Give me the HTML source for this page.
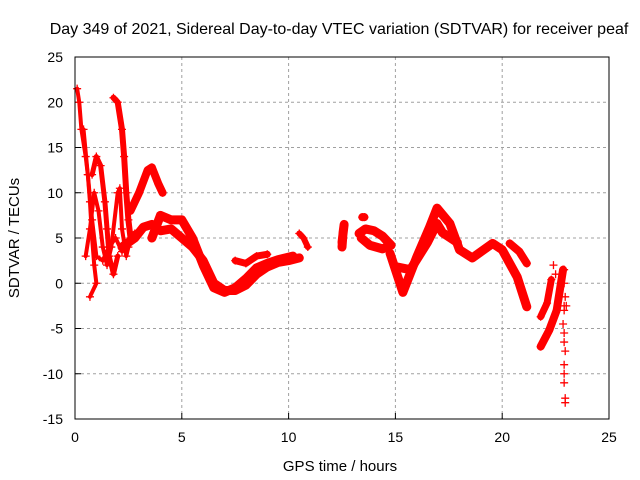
<!DOCTYPE html>
<html><head><meta charset="utf-8"><style>
body{margin:0;background:#fff;}
svg{display:block;font-family:"Liberation Sans",sans-serif;}
</style></head><body>
<svg id="chart" width="640" height="480" xmlns="http://www.w3.org/2000/svg">
<rect width="640" height="480" fill="#fff"/>
<text x="339" y="34" font-size="16" text-anchor="middle">Day 349 of 2021, Sidereal Day-to-day VTEC variation (SDTVAR) for receiver peaf</text>
<text transform="translate(19,238) rotate(-90)" font-size="15" text-anchor="middle">SDTVAR / TECUs</text>
<text x="340" y="471" font-size="15" text-anchor="middle">GPS time / hours</text>
<g id="grid"></g><g id="ticks"></g><g id="marks"></g>
<rect x="75" y="57" width="534" height="362" fill="none" stroke="#000" stroke-width="1"/>
</svg>
<script>
const xTicks=[0,5,10,15,20,25];
const yTicks=[25,20,15,10,5,0,-5,-10,-15];
const traceA_t=[0.1,0.2,0.3,0.5,0.6,0.7,0.8,0.9,1.0,0.7];
const traceA_v=[21.5,20,17,14,12,9,5,2,0,-1.5];
const traceB_t=[0.8,1.0,1.2,1.4,1.5,1.6,1.8,2.0];
const traceB_v=[12,14,13,9,6,3,1,3];
const traceM_t=[0.5,0.7,0.9,1.1,1.3,1.5,1.7,2.0,2.1,2.2,2.4,2.6];
const traceM_v=[3,6,10,8,4,2,4,10,10.5,6,3,5];
const traceN_t=[0.4,0.6,0.8,1.0,1.3,1.6,1.9,2.2,2.5];
const traceN_v=[17,12,7,3,2.5,4,5,3.5,4];
const traceC_t=[1.8,2.0,2.2,2.3,2.4,2.5,2.6,2.8];
const traceC_v=[20.5,20,17,14,10,7,5,5.5];
const traceD_t=[2.6,3.0,3.4,3.6,3.9,4.1];
const traceD_v=[8,10,12.5,12.8,11,10];
const traceE_t=[2.2,2.8,3.2,3.6,4,4.5,5,5.5,6,6.5,7,7.5,8,8.5,9,9.5,10,10.5];
const traceE_v=[4,5,6.2,6.5,5.8,6,5,4,2.5,0,-0.8,-0.8,-0.2,1,1.8,2.3,2.5,2.8];
const traceF_t=[3.6,4,4.5,5,5.5,6,6.5,7,7.5,8,8.5,9,9.5,10.2];
const traceF_v=[5,7.5,7,7,5,2,-0.5,-1,-0.5,0.5,1.7,2.2,2.6,3];
const traceG_t=[7.5,8,8.5,9];
const traceG_v=[2.5,2.2,3,3.2];
const traceL_t=[10.5,10.7,10.9];
const traceL_v=[5.5,5,4];
const blob1_t=[12.5,12.55,12.6,12.5];
const blob1_v=[4,5.6,6.5,4.5];
const blob2_t=[13.3,13.6,14.0,14.4,14.8,14.4,13.8,13.4];
const blob2_v=[5.5,6,5.8,5.2,4.2,3.8,4.2,5];
const blob3_t=[13.45,13.55];
const blob3_v=[7.3,7.3];
const traceH_t=[14.75,15.35,16,16.6,16.95,17.55,18.0,18.6,19.55,20.0,20.7,21.15];
const traceH_v=[3.3,-1,2.9,6.2,8.3,6.6,3.7,2.8,4.4,3.7,0.7,-2.6];
const traceH2_t=[15.07,15.7,16.5,16.95,17.2,17.9];
const traceH2_v=[1.8,1.5,4.5,6.6,5.6,4.5];
const traceI_t=[20.35,20.8,21.15];
const traceI_v=[4.4,3.5,2.2];
const traceJ_t=[21.8,22.2,22.55,22.85];
const traceJ_v=[-7,-5.2,-3,1.5];
const traceK_t=[21.8,22.1,22.3];
const traceK_v=[-3.7,-2.2,0.4];
const sparse_t=[22.9,22.9,22.95,22.9,22.85,22.9,22.9,22.95,22.9,22.9,22.9,22.95,22.95,22.4,22.5,22.9,23.0];
const sparse_v=[1.5,0,-1.5,-3,-4.5,-5.5,-6.5,-7.5,-9,-10,-11,-12.7,-13.2,2,1,-2.5,-2.5];
const ns="http://www.w3.org/2000/svg";
const X=h=>75+h*534/25, Y=v=>57+(25-v)*362/40;
const grid=document.getElementById('grid'),ticks=document.getElementById('ticks'),marks=document.getElementById('marks');
function mk(tag,attrs,parent){const e=document.createElementNS(ns,tag);for(const k in attrs)e.setAttribute(k,attrs[k]);parent.appendChild(e);return e;}
xTicks.forEach(t=>{
 if(t>0&&t<25){const g=mk('line',{x1:X(t),x2:X(t),y1:57,y2:419,stroke:'#a0a0a0','stroke-dasharray':'3,3'},grid);
 
 }
 const l=mk('line',{x1:X(t),x2:X(t),y1:419,y2:413,stroke:'#000'},ticks);
 
 
 const tx=mk('text',{x:X(t),y:442,'font-size':14,'text-anchor':'middle'},ticks);tx.textContent=t;
 
 
});
yTicks.forEach(t=>{
 if(t<25&&t>-15){const g=mk('line',{x1:75,x2:609,y1:Y(t),y2:Y(t),stroke:'#a0a0a0','stroke-dasharray':'3,3'},grid);
 
 }
 const l=mk('line',{x1:75,x2:81,y1:Y(t),y2:Y(t),stroke:'#000'},ticks);
 
 
 const tx=mk('text',{x:63,y:Y(t)+5,'font-size':14,'text-anchor':'end'},ticks);tx.textContent=t;
 
 
});
const traces=[[traceA_t,traceA_v,4],[traceB_t,traceB_v,5],[traceM_t,traceM_v,4],[traceN_t,traceN_v,4],[traceC_t,traceC_v,6],[traceD_t,traceD_v,8],[traceE_t,traceE_v,9],[traceF_t,traceF_v,9],[traceG_t,traceG_v,7],[traceL_t,traceL_v,6],[blob1_t,blob1_v,9],[blob2_t,blob2_v,9],[blob3_t,blob3_v,8],[traceH_t,traceH_v,9],[traceH2_t,traceH2_v,9],[traceI_t,traceI_v,8],[traceJ_t,traceJ_v,8],[traceK_t,traceK_v,7]];
traces.forEach(([ts,vs,w])=>{
 const p=mk('polyline',{points:ts.map((t,i)=>X(t)+','+Y(vs[i])).join(' '),fill:'none',stroke:'#f00','stroke-width':w,'stroke-linejoin':'round','stroke-linecap':'round'},marks);
 
 
 ts.forEach((t,i)=>{
  const m=mk('path',{d:`M${X(t)-4},${Y(vs[i])}h8M${X(t)},${Y(vs[i])-4}v8`,stroke:'#f00','stroke-width':1.3},marks);
  
  
 });
});
sparse_t.forEach((t,i)=>{
 const m=mk('path',{d:`M${X(t)-4},${Y(sparse_v[i])}h8M${X(t)},${Y(sparse_v[i])-4}v8`,stroke:'#f00','stroke-width':1.3},marks);
 
 
});
</script>
</body></html>
